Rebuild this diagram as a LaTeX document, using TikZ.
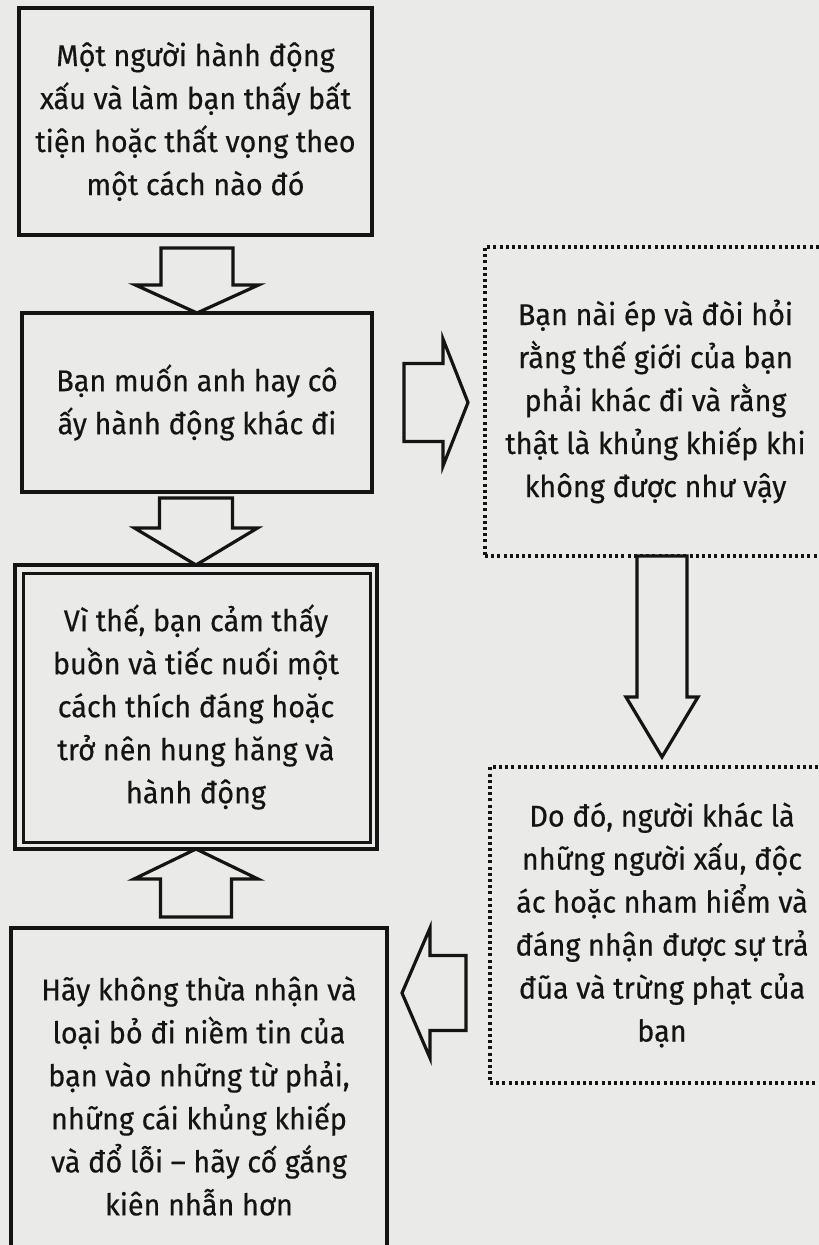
\documentclass[tikz,border=0pt]{standalone}
\usepackage{fontspec}
\setmainfont{Fira Sans}[FakeStretch=0.96, FakeBold=0.4]
\usetikzlibrary{calc}
\definecolor{paper}{RGB}{234,234,233}
\definecolor{ink}{RGB}{20,20,20}
\tikzset{
  box/.style={draw=ink, line width=3.4pt, inner sep=0pt, outer sep=0pt, align=center,
    font=\fontsize{30}{43}\selectfont, text=ink},
  dotbox/.style={box, line width=3.2pt, dash pattern=on 3pt off 3.2pt},
  innerline/.style={draw=ink, line width=3pt},
  blockarr/.style={draw=ink, line width=3.2pt, line join=miter, fill=paper},
}
\newcommand\blockarrow[5]{% tail, tip, shaft half width, head half width, head length
  \coordinate (ba-b) at ($(#2)!#5!(#1)$);
  \draw[blockarr] ($(#1)!#3!90:(#2)$) -- ($(ba-b)!#3!-90:(#1)$) -- ($(ba-b)!#4!-90:(#1)$)
    -- (#2) -- ($(ba-b)!#4!90:(#1)$) -- ($(ba-b)!#3!90:(#1)$) -- ($(#1)!#3!-90:(#2)$) -- cycle;}
\begin{document}
\begin{tikzpicture}[x=1pt, y=-1pt]
\useasboundingbox (0,0) rectangle (819,1245);
\clip (0,0) rectangle (819,1245);
\fill[paper] (0,0) rectangle (819,1245);

\node[box, minimum width=353pt, minimum height=227pt] (b1) at (195.5,121.5)
  {Một người hành động\\ xấu và làm bạn thấy bất\\ tiện hoặc thất vọng theo\\ một cách nào đó};
\node[box, minimum width=350pt, minimum height=179pt] (b2) at (197,402.5)
  {Bạn muốn anh hay cô\\ ấy hành động khác đi};
\node[box, minimum width=362pt, minimum height=284pt] (b3) at (196,707)
  {Vì thế, bạn cảm thấy\\ buồn và tiếc nuối một\\ cách thích đáng hoặc\\ trở nên hung hăng và\\ hành động};
\draw[innerline] ($(b3.south west)+(8,-7)$) rectangle ($(b3.north east)+(-7,8)$);
\node[dotbox, minimum width=341pt, minimum height=309pt] (bA) at (655.5,401.5)
  {Bạn nài ép và đòi hỏi\\ rằng thế giới của bạn\\ phải khác đi và rằng\\ thật là khủng khiếp khi\\ không được như vậy};
\node[dotbox, minimum width=344pt, minimum height=316pt] (bB) at (662,925)
  {Do đó, người khác là\\ những người xấu, độc\\ ác hoặc nham hiểm và\\ đáng nhận được sự trả\\ đũa và trừng phạt của\\ bạn};
\node[box, minimum width=376pt, minimum height=336pt] (b4) at (199,1096)
  {Hãy không thừa nhận và\\ loại bỏ đi niềm tin của\\ bạn vào những từ phải,\\ những cái khủng khiếp\\ và đổ lỗi – hãy cố gắng\\ kiên nhẫn hơn};

% connectors (block arrows)
\coordinate (a1t) at ($(b2.north |- b1.south)+(0,13)$);
\blockarrow{a1t}{b2.north}{36pt}{61.5pt}{28pt}
\coordinate (a2t) at ($(b3.north |- b2.south)+(0,6)$);
\blockarrow{a2t}{b3.north}{36.5pt}{61.5pt}{37pt}
\coordinate (rat) at ($(b2.east)+(32,0)$);
\coordinate (rah) at ($(bA.west |- rat)+(-17,0)$);
\blockarrow{rat}{rah}{39pt}{63.5pt}{25pt}
\coordinate (dat) at (bB.north |- bA.south);
\coordinate (dah) at ($(bB.north)+(0,-10)$);
\blockarrow{dat}{dah}{25pt}{36pt}{60pt}
\coordinate (lat) at ($(bB.west)+(-24,68)$);
\coordinate (lah) at ($(b4.east |- lat)+(15,0)$);
\blockarrow{lat}{lah}{37.5pt}{65pt}{28pt}
\coordinate (uat) at ($(b3.south |- b4.north)+(0,-11)$);
\blockarrow{uat}{b3.south}{35.5pt}{62pt}{30pt}
\end{tikzpicture}
\end{document}
